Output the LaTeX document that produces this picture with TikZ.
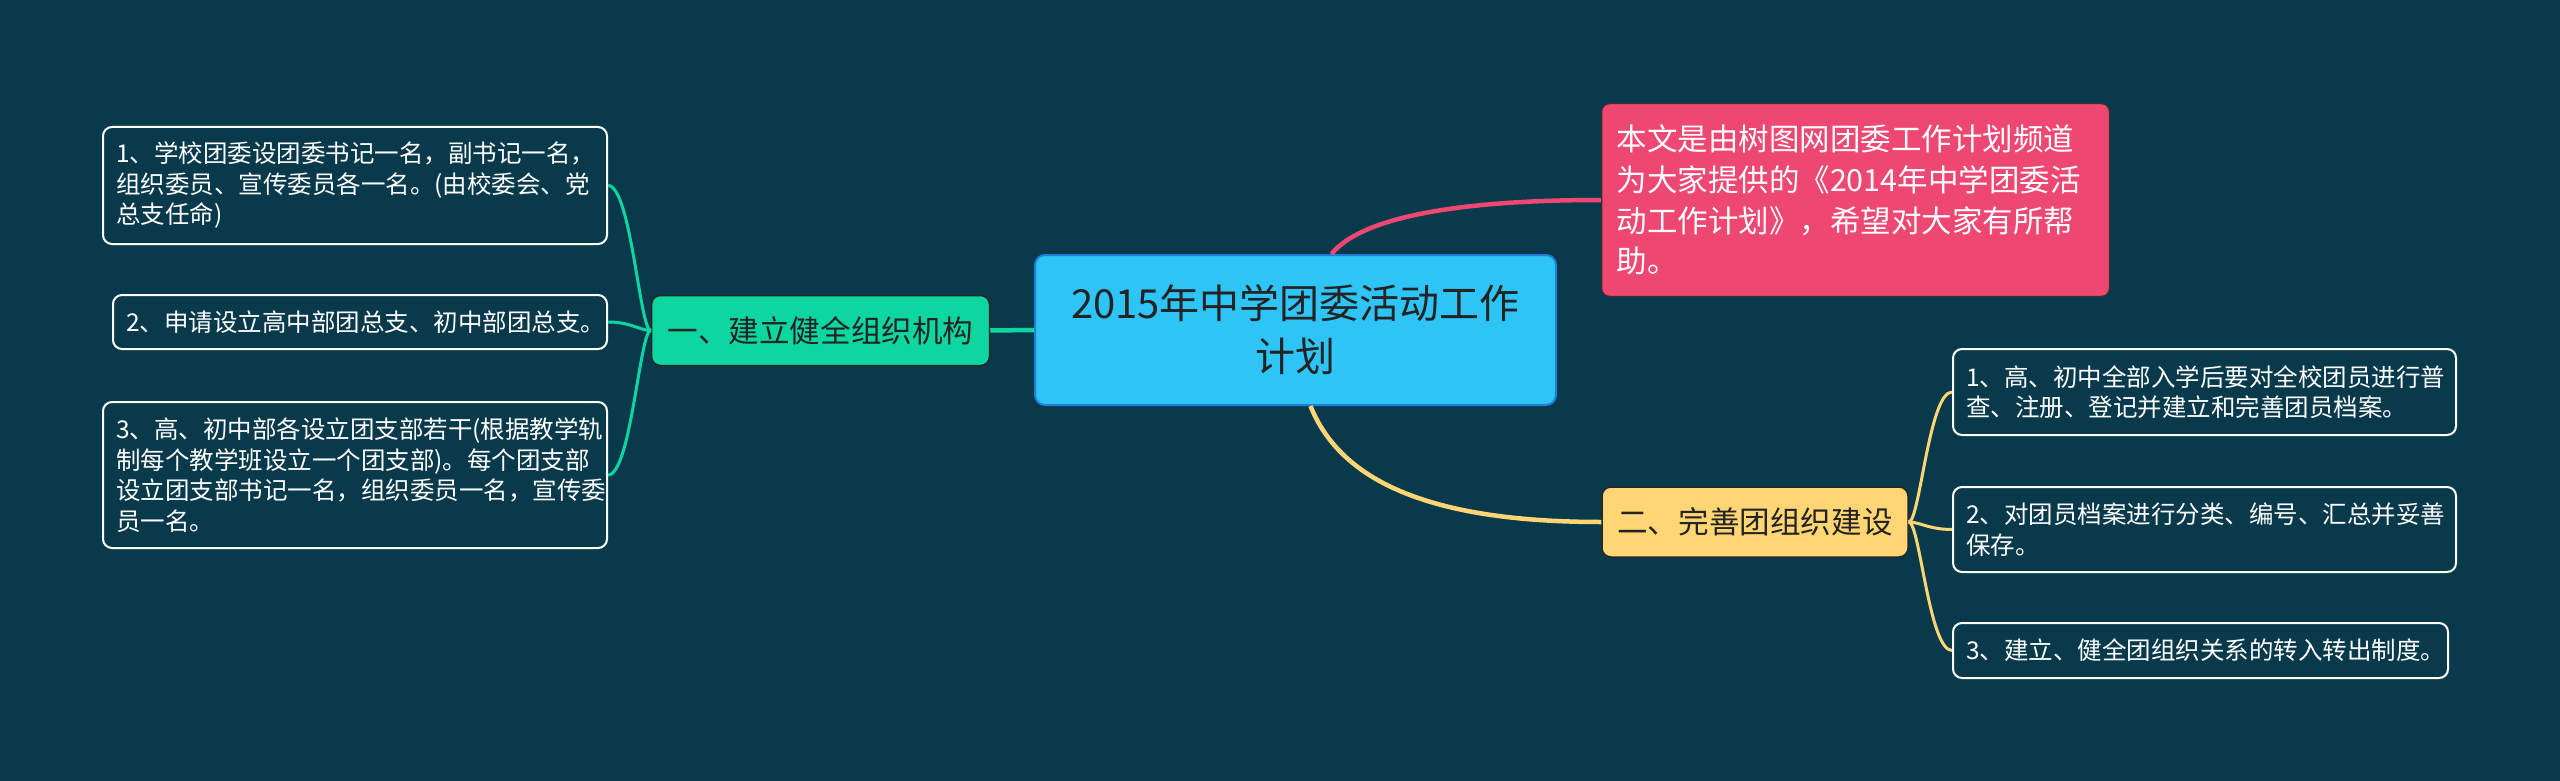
\documentclass[tikz,border=0pt]{standalone}
\usepackage{fontspec}
\setmainfont{Noto Sans CJK SC}

\definecolor{bg}{HTML}{083A4C}
\definecolor{topicfill}{HTML}{2EC4F6}
\definecolor{topicline}{HTML}{1E7FD8}
\definecolor{notefill}{HTML}{EE4772}
\definecolor{orgfill}{HTML}{0ED6A0}
\definecolor{buildfill}{HTML}{FFD673}
\definecolor{inkdark}{HTML}{232323}

\tikzset{
    topic/.style={rectangle, rounded corners=10pt, draw=topicline, line width=2pt, fill=topicfill, text=inkdark, align=center, inner sep=0pt, minimum width=521pt, minimum height=150pt, font=\fontsize{40pt}{53pt}\selectfont},
    note/.style={rectangle, rounded corners=8pt, draw=black!80, line width=1.5pt, fill=notefill, text=white, align=left, inner xsep=15pt, inner ysep=0pt, text width=478pt, minimum height=193pt, font=\fontsize{30.5pt}{40.7pt}\selectfont},
    branch/.style={rectangle, rounded corners=9pt, draw=black!85, line width=1.5pt, text=inkdark, align=center, inner sep=0pt, minimum height=70pt, font=\fontsize{30.6pt}{36pt}\selectfont},
    leaf/.style={rectangle, rounded corners=9pt, draw=white, line width=2pt, text=white, align=left, inner xsep=13pt, inner ysep=0pt, font=\fontsize{24.5pt}{30.5pt}\selectfont},
    bough/.style={line width=4.5pt},
    twig/.style={line width=3pt}
    }

\begin{document}
\begin{tikzpicture}[x=1pt, y=-1pt]
                \fill[bg] (0,0) rectangle (2560,781);
                % The Map
                \node (root) [topic] at (1295.5,330) {2015年中学团委活动工作\\计划};
                \node (intro) [note] at (1855.5,200) {本文是由树图网团委工作计划频道\\为大家提供的《2014年中学团委活\\动工作计划》，希望对大家有所帮\\助。};
                \node (org) [branch, fill=orgfill, minimum width=338pt] at (820.5,330.5) {一、建立健全组织机构};
                \node (build) [branch, fill=buildfill, minimum width=306pt] at (1755,522) {二、完善团组织建设};

                % left leaves
                \node (org1) [leaf, text width=478pt, minimum height=117pt] at (355,185.5) {1、学校团委设团委书记一名，副书记一名，\\组织委员、宣传委员各一名。(由校委会、党\\总支任命)};
                \node (org2) [leaf, text width=468pt, minimum height=54pt] at (360,322) {2、申请设立高中部团总支、初中部团总支。};
                \node (org3) [leaf, text width=478pt, minimum height=146pt] at (355,475) {3、高、初中部各设立团支部若干(根据教学轨\\制每个教学班设立一个团支部)。每个团支部\\设立团支部书记一名，组织委员一名，宣传委\\员一名。};

                % right leaves
                \node (build1) [leaf, text width=477pt, minimum height=86pt] at (2204.5,392) {1、高、初中全部入学后要对全校团员进行普\\查、注册、登记并建立和完善团员档案。};
                \node (build2) [leaf, text width=477pt, minimum height=85pt] at (2204.5,529.5) {2、对团员档案进行分类、编号、汇总并妥善\\保存。};
                \node (build3) [leaf, text width=469pt, minimum height=55pt] at (2200.5,650.5) {3、建立、健全团组织关系的转入转出制度。};

                % The Links
                \draw[bough, orgfill] (root.west) -- (org.east);
                \draw[bough, notefill] ([xshift=36pt]root.north) .. controls +(28,-35) and +(-150,0) .. (intro.west);
                \draw[bough, buildfill] ([xshift=15pt]root.south) .. controls +(30,75) and +(-172,0) .. (build.west);
                \foreach \n in {org1,org2,org3}
                    \draw[twig, orgfill] (org.west) .. controls +(-11,0) and +(23,0) .. (\n.east);
                \foreach \n in {build1,build2,build3}
                    \draw[twig, buildfill] (build.east) .. controls +(11,0) and +(-23,0) .. (\n.west);
            \end{tikzpicture}
\end{document}
